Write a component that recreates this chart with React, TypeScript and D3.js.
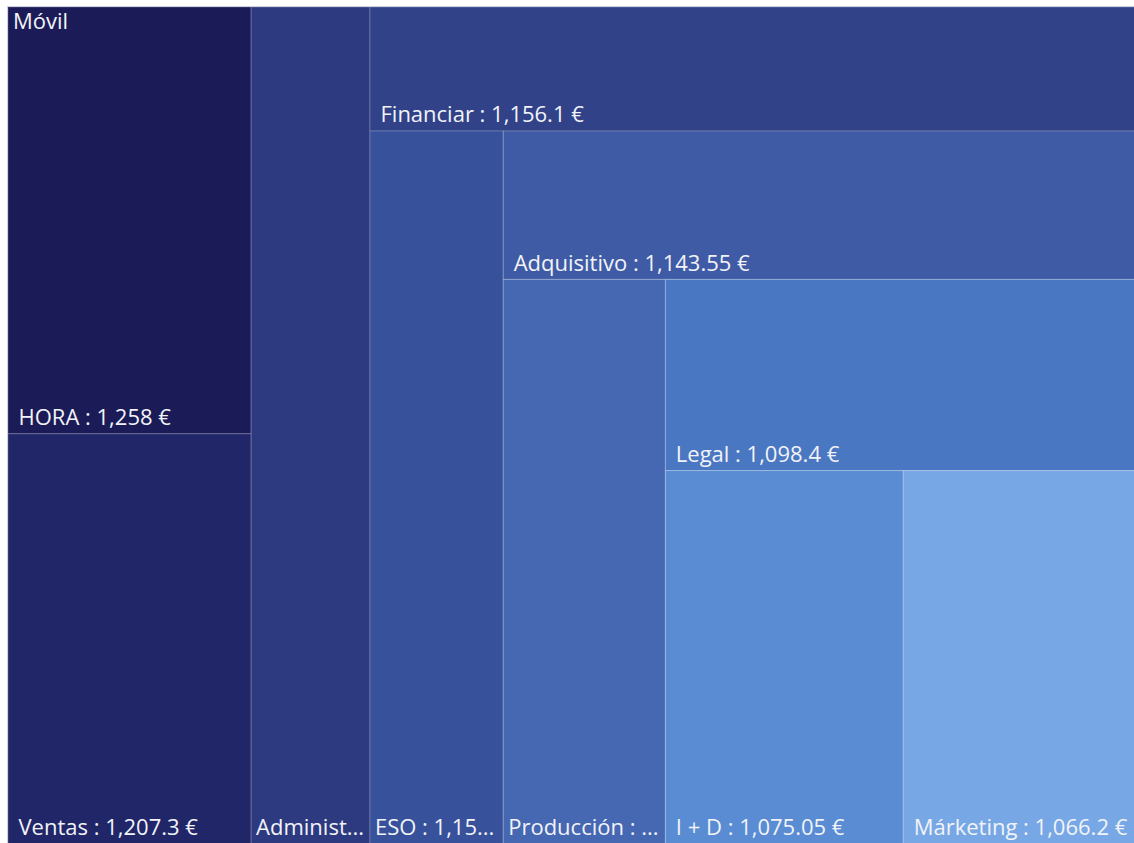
import React, { useEffect, useRef } from 'react';
import * as d3 from 'd3';

// values
const rootName = 'Móvil';
const categories = ['HORA', 'Ventas', 'Administración', 'Financiar', 'ESO', 'Adquisitivo', 'Producción', 'Legal', 'I + D', 'Márketing'];
const amounts = [1258, 1207.3, 1205.6, 1156.1, 1150.8, 1143.55, 1109, 1098.4, 1075.05, 1066.2];
const cellColors = ['#1b1c57', '#202667', '#2d3a80', '#314289', '#38519b', '#3f5ba5', '#4667b2', '#4a77c1', '#598cd3', '#77a8e5'];
// how many nodes go in each strip of the layout
const stripSizes = [2, 1, 1, 1, 1, 1, 1, 1, 1];

const PAGE_W = 1134;
const PAGE_H = 843;

const stripTile = (parent: any, x0: number, y0: number, x1: number, y1: number) => {
    const nodes = parent.children;
    let remaining = parent.value;
    let i = 0;
    for (const size of stripSizes) {
        const row = nodes.slice(i, i + size);
        if (!row.length) break;
        const sum = d3.sum(row, (n: any) => n.value);
        const fake: any = { children: row, value: sum };
        if (x1 - x0 >= y1 - y0) {
            const w = remaining ? (x1 - x0) * sum / remaining : 0;
            d3.treemapSlice(fake, x0, y0, x0 + w, y1);
            x0 += w;
        } else {
            const h = remaining ? (y1 - y0) * sum / remaining : 0;
            d3.treemapDice(fake, x0, y0, x1, y0 + h);
            y0 += h;
        }
        remaining -= sum;
        i += size;
    }
};

const Treemap = () => {
    const svgRef = useRef<SVGSVGElement>(null);

    useEffect(() => {
        if (!svgRef.current) return;
        const svg = d3.select(svgRef.current);
        svg.selectAll('*').remove();

        const margin = { left: 8, top: 7 };
        const innerW = 1131;
        const innerH = 836.5;

        const data = {
            name: rootName,
            children: categories.map((c, i) => ({ name: c, value: amounts[i], color: cellColors[i] })),
        };

        const root = d3.hierarchy<any>(data)
            .sum(d => d.value || 0)
            .sort((a, b) => (b.value || 0) - (a.value || 0));

        d3.treemap<any>()
            .size([innerW, innerH])
            .tile(stripTile as any)
            .paddingInner(0)(root);

        const fmt = d3.format(',');
        const fontFamily = '"Open Sans", "Noto Sans", sans-serif';
        const fontSize = 22;

        const g = svg.append('g')
            .attr('transform', `translate(${margin.left},${margin.top})`);

        g.append('rect')
            .attr('x', -0.5)
            .attr('y', -0.5)
            .attr('width', innerW + 1)
            .attr('height', innerH + 1)
            .attr('fill', 'none')
            .attr('stroke', '#c9cbdb');

        const leaves = g.selectAll('g.leaf')
            .data(root.leaves())
            .join('g')
            .attr('class', 'leaf');

        leaves.append('rect')
            .attr('x', (d: any) => d.x0)
            .attr('y', (d: any) => d.y0)
            .attr('width', (d: any) => d.x1 - d.x0)
            .attr('height', (d: any) => d.y1 - d.y0)
            .attr('fill', (d: any) => d.data.color)
            .attr('stroke', 'rgba(255,255,255,0.2)')
            .attr('stroke-width', 1);

        leaves.append('text')
            .attr('font-family', fontFamily)
            .attr('font-size', fontSize)
            .attr('fill', '#f2f3f8')
            .each(function (d: any) {
                const t = d3.select(this);
                const full = `${d.data.name} : ${fmt(d.value)} €`;
                const cellW = d.x1 - d.x0;
                t.text(full);
                let pad = 10.5;
                const node = this as SVGTextElement;
                if (node.getComputedTextLength() > cellW - 2 * pad) {
                    pad = 5;
                    let s = full;
                    while (s.length > 1) {
                        s = s.slice(0, -1);
                        t.text(s + '...');
                        if (node.getComputedTextLength() <= cellW - 2 * pad + 2) break;
                    }
                }
                t.attr('x', d.x0 + pad).attr('y', d.y1 - 8.5);
            });

        g.append('text')
            .attr('x', 5)
            .attr('y', 21.5)
            .attr('font-family', fontFamily)
            .attr('font-size', fontSize)
            .attr('fill', '#f2f3f8')
            .text(root.data.name);
    }, []);

    return (
        <div style={{ position: 'fixed', left: 0, top: 0, width: PAGE_W, height: PAGE_H, overflow: 'hidden', background: '#fff' }}>
            <svg ref={svgRef} width={PAGE_W} height={PAGE_H} style={{ display: 'block' }} />
        </div>
    );
};

export default function App() {
    return <Treemap />;
}
